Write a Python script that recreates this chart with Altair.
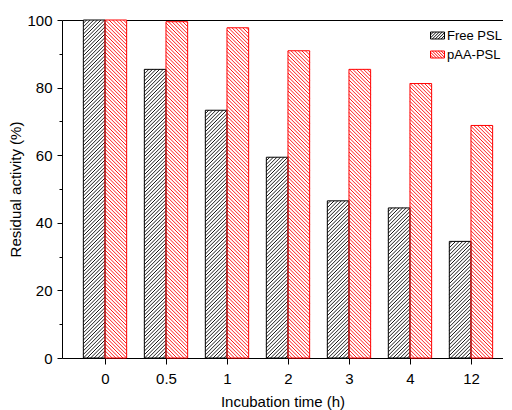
import altair as alt
import pandas as pd
import numpy as np

# ---- data ----
categories = ["0", "0.5", "1", "2", "3", "4", "12"]
free_psl = [100, 85.4, 73.3, 59.4, 46.5, 44.4, 34.5]
paa_psl = [100, 99.5, 97.7, 90.9, 85.4, 81.2, 68.8]
series_names = ["Free PSL", "pAA-PSL"]

# ---- layout / style constants ----
W, H = 441, 338
XDOM = [-0.705, 6.525]
YDOM = [0, 100]
BW = 0.355            # bar width in category units
SPACING = 3.6         # hatch spacing (px, horizontal)
FONT = "Arial"
PXX = W / (XDOM[1] - XDOM[0])
PXY = H / (YDOM[1] - YDOM[0])

rows = []
for i, c in enumerate(categories):
    rows.append(dict(cat=c, idx=i, series=series_names[0], value=free_psl[i], x0=i - BW, x1=i))
    rows.append(dict(cat=c, idx=i, series=series_names[1], value=paa_psl[i], x0=i, x1=i + BW))
bars = pd.DataFrame(rows)

# hatch lines derived from the bars (45 degrees in pixel space)
hatch = []
for r in rows:
    ul, ur, hb = r["x0"] * PXX, r["x1"] * PXX, r["value"] * PXY
    if r["series"] == series_names[0]:
        k0, k1 = int(np.floor((ul - hb) / SPACING)), int(np.ceil(ur / SPACING))
        for k in range(k0, k1 + 1):
            c = k * SPACING
            u0, u1 = max(ul, c), min(ur, c + hb)
            if u1 - u0 > 0.3:
                hatch.append(dict(series=r["series"], value=r["value"], hx=u0 / PXX, hy=(u0 - c) / PXY,
                                  hx2=u1 / PXX, hy2=(u1 - c) / PXY))
    else:
        k0, k1 = int(np.floor(ul / SPACING)), int(np.ceil((ur + hb) / SPACING))
        for k in range(k0, k1 + 1):
            c = k * SPACING
            u0, u1 = max(ul, c - hb), min(ur, c)
            if u1 - u0 > 0.3:
                hatch.append(dict(series=r["series"], value=r["value"], hx=u0 / PXX, hy=(c - u0) / PXY,
                                  hx2=u1 / PXX, hy2=(c - u1) / PXY))
hatch = pd.DataFrame(hatch)


def legend_path(forward):
    parts = ["M-1,-0.5L1,-0.5L1,0.5L-1,0.5Z"]
    a = -2.0
    while a < 1.0:
        x0, x1 = max(-1.0, a), min(1.0, a + 1.0)
        if x1 - x0 > 0.02:
            if forward:
                y0, y1 = 0.5 - (x0 - a), 0.5 - (x1 - a)
            else:
                y0, y1 = -0.5 + (x0 - a), -0.5 + (x1 - a)
            parts.append(f"M{x0:.3f},{y0:.3f}L{x1:.3f},{y1:.3f}")
        a += 0.42
    return "".join(parts)


stroke_cond = alt.condition(f"datum.series == '{series_names[0]}'",
                            alt.value("black"), alt.value("#ff0000"))

label_js = "[" + ",".join(f"'{c}'" for c in categories) + "]"

xscale = alt.Scale(domain=XDOM, nice=False, zero=False)
yscale = alt.Scale(domain=YDOM, nice=False, zero=False)

yaxis = alt.Axis(values=list(range(0, 101, 10)),
                 labelExpr="datum.value % 20 == 0 ? datum.label : ''",
                 tickSize={"condition": {"test": "datum.value % 20 != 0", "value": 3}, "value": 5},
                 title="Residual activity (%)", labelPadding=5, titlePadding=3,
                 labelFontSize=15, titleFontSize=15, labelFont=FONT, titleFont=FONT,
                 titleFontWeight="normal", labelColor="black", titleColor="black",
                 tickColor="black", domainColor="black", grid=False)

base_bars = alt.Chart(bars)

fill_layer = base_bars.mark_bar(fill="white", strokeWidth=0).encode(
    x=alt.X("x0:Q", scale=xscale,
            axis=alt.Axis(values=list(range(len(categories))),
                          labelExpr=f"{label_js}[datum.value]",
                          title="Incubation time (h)", tickSize=6, labelPadding=7,
                          titlePadding=8, labelFontSize=15, titleFontSize=15,
                          labelFont=FONT, titleFont=FONT, titleFontWeight="normal",
                          labelColor="black", titleColor="black", tickColor="black",
                          domainColor="black", grid=False, labelFlush=False)),
    x2="x1:Q",
    y=alt.Y("value:Q", scale=yscale, axis=yaxis),
    y2=alt.datum(0),
)

hatch_layer = alt.Chart(hatch).mark_rule(strokeWidth=0.9).encode(
    x=alt.X("hx:Q", scale=xscale, axis=None),
    y=alt.Y("hy:Q", scale=yscale, axis=yaxis),
    x2="hx2:Q",
    y2="hy2:Q",
    stroke=stroke_cond,
)

outline_layer = base_bars.mark_bar(fill="transparent", strokeWidth=1).encode(
    x=alt.X("x0:Q", scale=xscale, axis=None),
    x2="x1:Q",
    y=alt.Y("value:Q", scale=yscale, axis=yaxis),
    y2=alt.datum(0),
    stroke=stroke_cond,
)

leg = dict(orient="none", legendX=368, legendY=8, title=None,
           padding=0, rowPadding=4, labelFontSize=13,
           labelFont=FONT, labelColor="black", labelOffset=2,
           symbolSize=196, symbolStrokeWidth=1, symbolOpacity=1)

legend_layer = base_bars.mark_point(filled=False, opacity=0).encode(
    x=alt.X("idx:Q", scale=xscale,
            axis=alt.Axis(orient="top", labels=False, ticks=False, title=None,
                          domainColor="black", grid=False)),
    y=alt.Y("value:Q", scale=yscale, axis=yaxis),
    color=alt.Color("series:N",
                    scale=alt.Scale(domain=series_names, range=["black", "#ff0000"]),
                    legend=alt.Legend(**leg)),
    shape=alt.Shape("series:N",
                    scale=alt.Scale(domain=series_names,
                                    range=[legend_path(True), legend_path(False)]),
                    legend=alt.Legend(**leg)),
)

chart = alt.layer(fill_layer, hatch_layer, outline_layer, legend_layer).resolve_axis(
    x="independent"
).properties(
    width=W, height=H,
    autosize=alt.AutoSizeParams(type="none"),
    padding={"left": 54, "top": 12, "right": 0, "bottom": 52},
    background="white",
).configure_view(stroke=None)

chart.save("out.html", embed_options={"renderer": "svg", "actions": False})
